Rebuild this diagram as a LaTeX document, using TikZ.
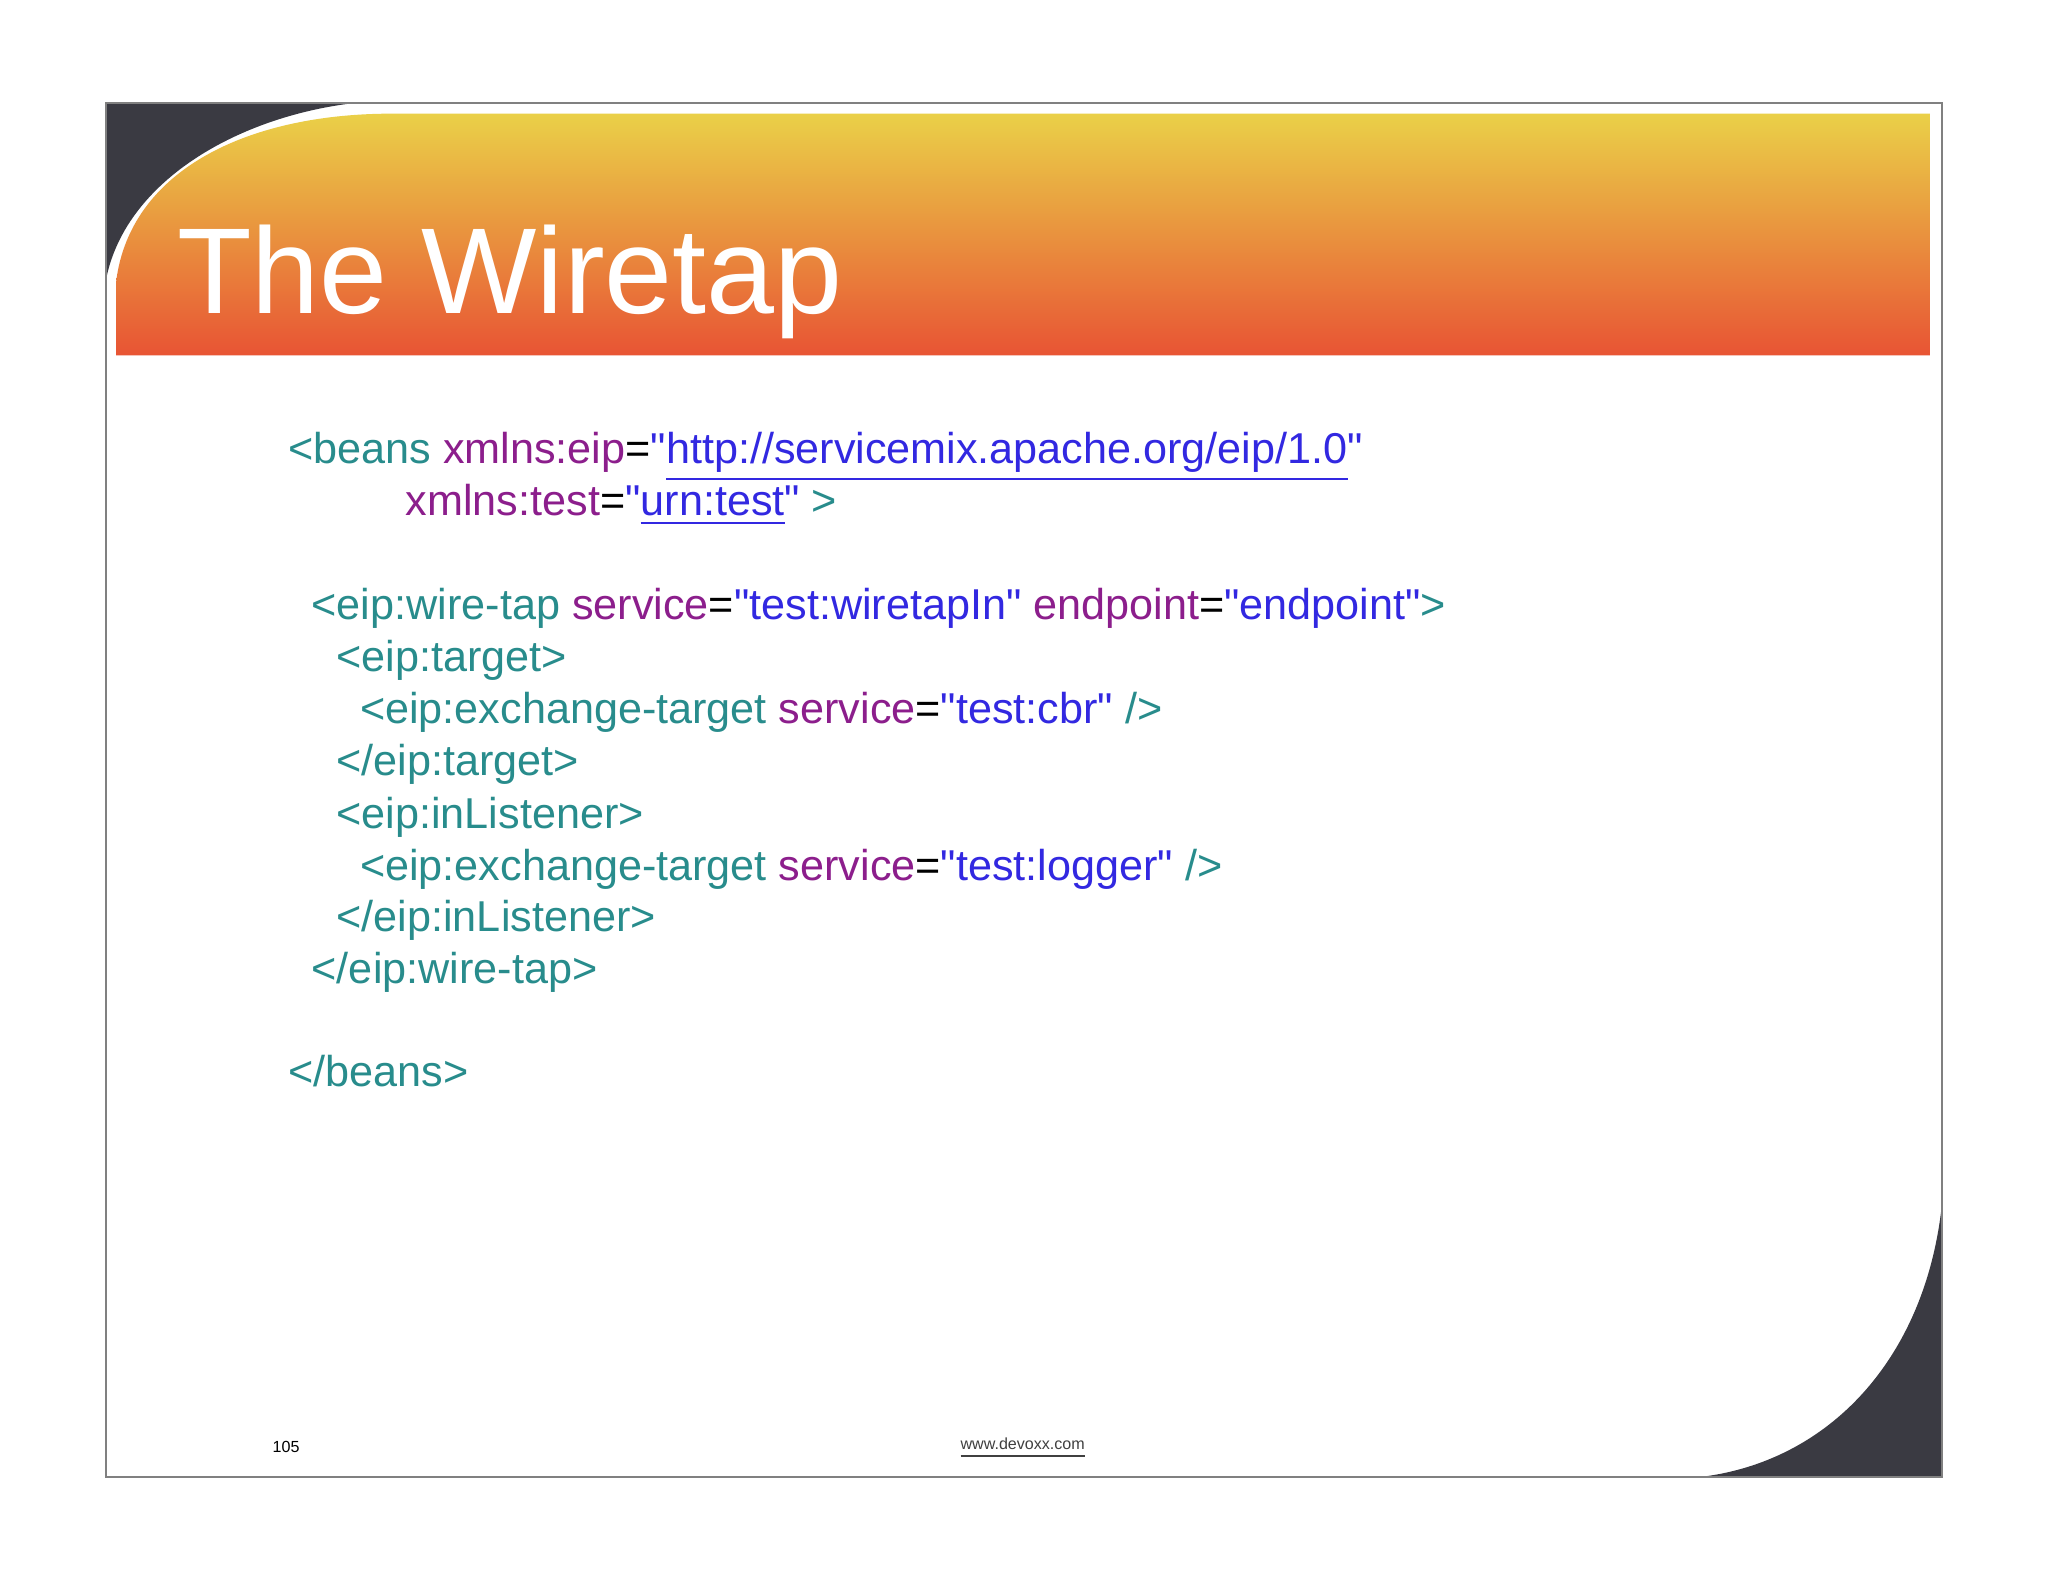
\documentclass[tikz,border=0pt]{standalone}
\usepackage{fontspec}
\setmainfont{Liberation Sans}
\newfontfamily\qf{Liberation Sans}
\definecolor{tagc}{RGB}{40,140,140}
\definecolor{attc}{RGB}{140,30,140}
\definecolor{valc}{RGB}{50,40,225}
\definecolor{darkc}{RGB}{58,58,66}
\definecolor{topc}{RGB}{234,208,72}
\definecolor{botc}{RGB}{232,84,52}
\newcommand{\tg}[1]{\textcolor{tagc}{#1}}
\newcommand{\at}[1]{\textcolor{attc}{#1}}
\newcommand{\vl}[1]{\textcolor{valc}{#1}}
\newcommand{\q}{{\qf"}}
\begin{document}
\begin{tikzpicture}[x=0.01cm,y=-0.01cm,
  code/.style={anchor=base west,inner sep=0pt,font=\fontsize{9.4}{11}\selectfont},
  foot/.style={anchor=base,inner sep=0pt,font=\fontsize{3.5}{4}\selectfont}]
\useasboundingbox (0,0) rectangle (1568,1211);
\fill[white] (0,0) rectangle (1568,1211);
\fill[darkc] (81,79) -- (270,79) .. controls (180,90) and (95,140) .. (81,215) -- cycle;
\fill[darkc] (1487,1131) -- (1487,920) .. controls (1475,1040) and (1400,1120) .. (1300,1131) -- cycle;
\shade[top color=topc,bottom color=botc] (89,272) -- (89,215) .. controls (100,130) and (190,87) .. (300,87) -- (1478,87) -- (1478,272) -- cycle;
\draw[gray,line width=0.4pt] (81,79) rectangle (1487,1131);
\node[anchor=base west,inner sep=0pt,text=white,font=\fontsize{26.6}{30}\selectfont] (title) at (135,240) {The Wiretap};
\node[code] (l1) at (220,355) {\tg{<beans} \at{xmlns:eip}=\vl{\q\underline{http://servicemix.apache.org/eip/1.0}\q}};
\node[code] (l2) at (310,395) {\at{xmlns:test}=\vl{\q\underline{urn:test}\q} \tg{>}};
\node[code] (l3) at (238,474) {\tg{<eip:wire-tap} \at{service}=\vl{\q test:wiretapIn\q} \at{endpoint}=\vl{\q endpoint\q}\tg{>}};
\node[code] (l4) at (257,514) {\tg{<eip:target>}};
\node[code] (l5) at (275,554) {\tg{<eip:exchange-target} \at{service}=\vl{\q test:cbr\q} \tg{/>}};
\node[code] (l6) at (257,594) {\tg{</eip:target>}};
\node[code] (l7) at (257,634) {\tg{<eip:inListener>}};
\node[code] (l8) at (275,674) {\tg{<eip:exchange-target} \at{service}=\vl{\q test:logger\q} \tg{/>}};
\node[code] (l9) at (257,713) {\tg{</eip:inListener>}};
\node[code] (l10) at (238,753) {\tg{</eip:wire-tap>}};
\node[code] (l11) at (220,832) {\tg{</beans>}};
\node[foot] (pg) at (219,1112) {105};
\node[foot,text=darkgray] (url) at (783,1110) {\underline{www.devoxx.com}};
\end{tikzpicture}
\end{document}
